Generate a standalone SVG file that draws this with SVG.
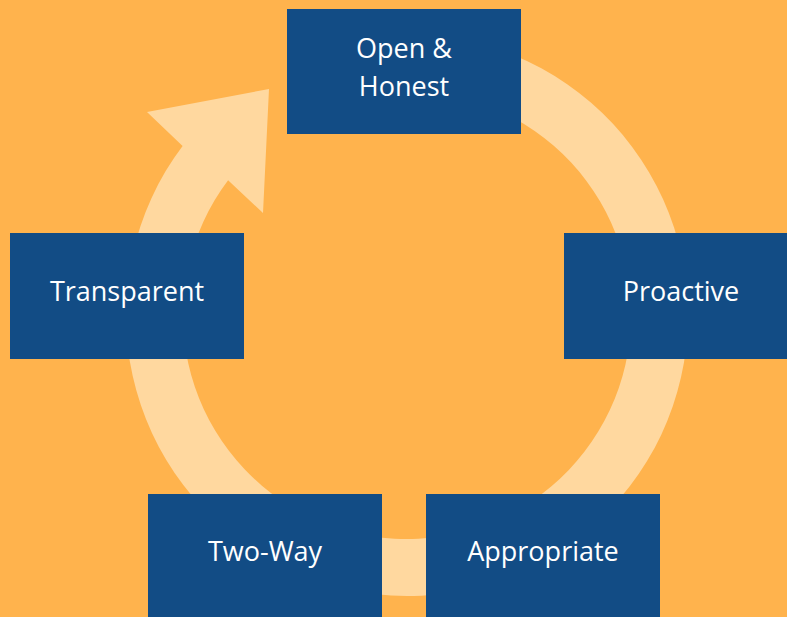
<svg xmlns="http://www.w3.org/2000/svg" width="787" height="617" viewBox="0 0 787 617">
<style>
.box{fill:#124C85}
.lbl{fill:#FFFFFF;font-family:"Open Sans","Liberation Sans",sans-serif;font-size:27px;text-anchor:middle}
</style>
<rect x="0" y="0" width="787" height="617" fill="#FFB34D"/>
<g id="connectors">
<path d="M 455.8 38.3 A 281 281 0 1 1 182.6 145.9 L 147 112 L 269 89 L 263 213 L 228.1 180.2 A 224 224 0 1 0 445.9 94.4 Z" fill="#FFD89F"/>
</g>
<g id="open-honest">
<rect class="box" x="287" y="9" width="234" height="125"/>
<text class="lbl" x="404" y="58">Open &amp;</text>
<text class="lbl" x="404" y="96">Honest</text>
</g>
<g id="transparent">
<rect class="box" x="10" y="233" width="234" height="126"/>
<text class="lbl" x="127" y="301">Transparent</text>
</g>
<g id="proactive">
<rect class="box" x="564" y="233" width="234" height="126"/>
<text class="lbl" x="681" y="301">Proactive</text>
</g>
<g id="two-way">
<rect class="box" x="148" y="494" width="234" height="130"/>
<text class="lbl" x="265" y="561">Two-Way</text>
</g>
<g id="appropriate">
<rect class="box" x="426" y="494" width="234" height="130"/>
<text class="lbl" x="543" y="561">Appropriate</text>
</g>
</svg>
